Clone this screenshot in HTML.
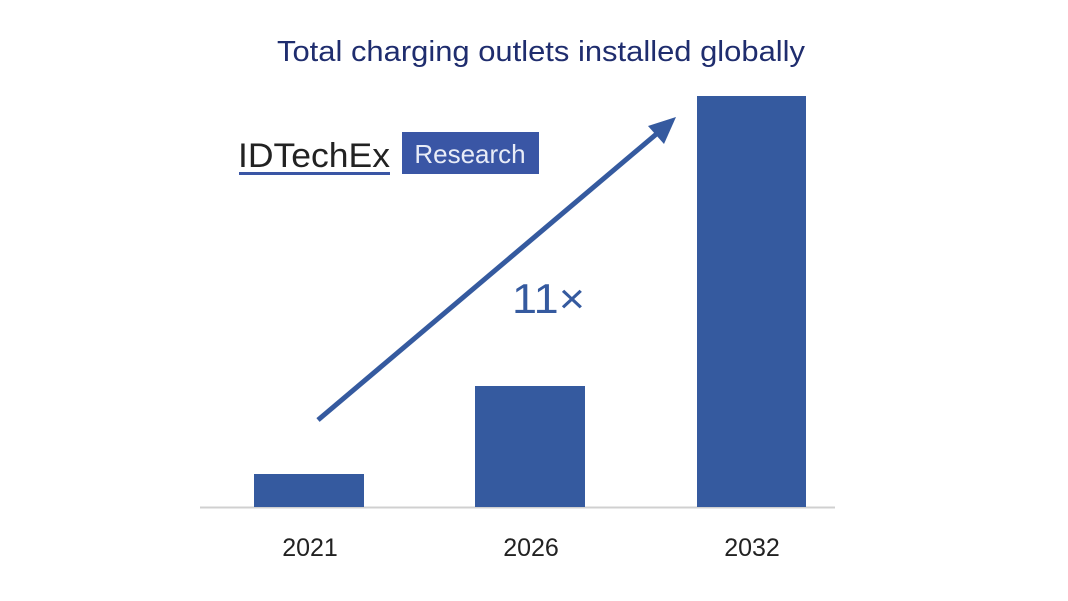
<!DOCTYPE html>
<html><head><style>
body{margin:0;background:#fff;}
svg{display:block;}
</style></head><body>
<svg width="1068" height="601" xmlns="http://www.w3.org/2000/svg">
<rect width="1068" height="601" fill="#fff"/>
<text x="277" y="61" font-family="Liberation Sans, sans-serif" font-size="29" fill="#1f2d6e" textLength="528" lengthAdjust="spacingAndGlyphs">Total charging outlets installed globally</text>
<text x="238" y="167" font-family="Liberation Sans, sans-serif" font-size="34" fill="#222" textLength="152" lengthAdjust="spacingAndGlyphs">IDTechEx</text>
<rect x="239" y="172" width="151" height="3" fill="#3a56a5"/>
<rect x="402" y="132" width="137" height="42" fill="#3a56a5"/>
<text x="470" y="163" text-anchor="middle" font-family="Liberation Sans, sans-serif" font-size="26" fill="#e8ecf7">Research</text>
<line x1="200" y1="507.5" x2="835" y2="507.5" stroke="#d0d0d0" stroke-width="2"/>
<rect x="254" y="474" width="110" height="33" fill="#355a9f"/>
<rect x="475" y="386" width="110" height="121" fill="#355a9f"/>
<rect x="697" y="96" width="109" height="411" fill="#355a9f"/>
<line x1="318" y1="420" x2="660" y2="131" stroke="#355a9f" stroke-width="5"/>
<polygon points="676,117 648,126 664,144" fill="#355a9f"/>
<text x="512" y="313" font-family="Liberation Sans, sans-serif" font-size="42" fill="#355a9f" textLength="73" lengthAdjust="spacingAndGlyphs">11×</text>
<text x="310" y="556" text-anchor="middle" font-family="Liberation Sans, sans-serif" font-size="25" fill="#222">2021</text>
<text x="531" y="556" text-anchor="middle" font-family="Liberation Sans, sans-serif" font-size="25" fill="#222">2026</text>
<text x="752" y="556" text-anchor="middle" font-family="Liberation Sans, sans-serif" font-size="25" fill="#222">2032</text>
</svg>
</body></html>
